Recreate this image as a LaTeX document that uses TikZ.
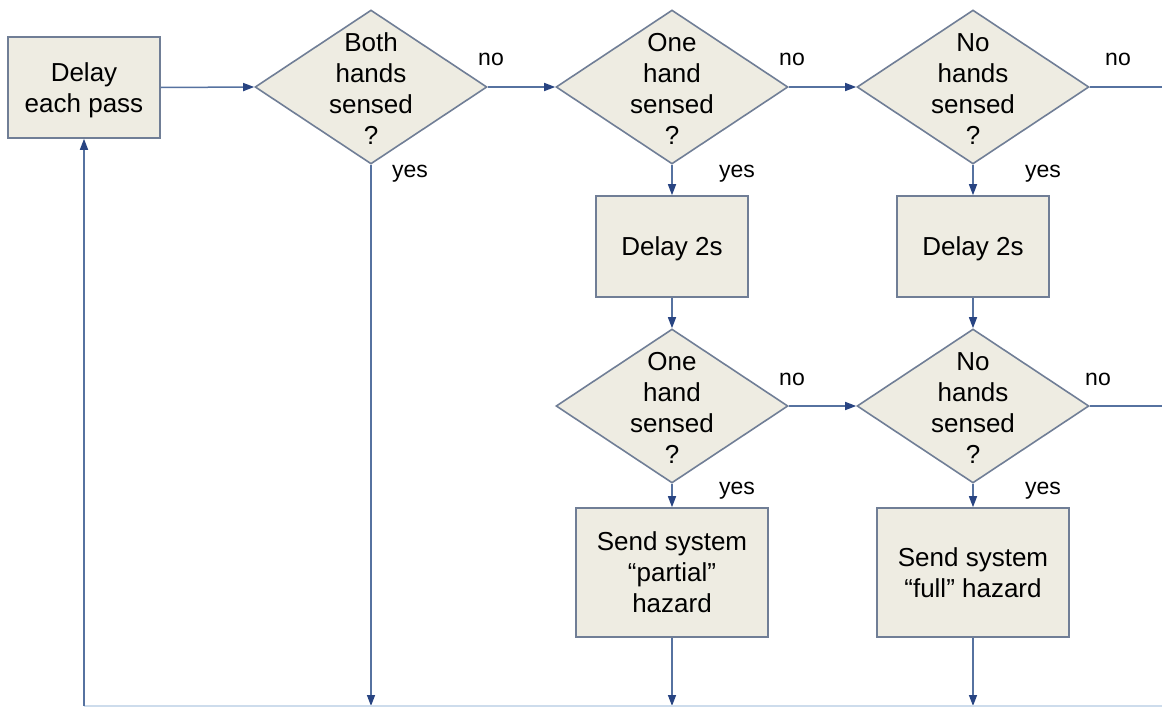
\documentclass[tikz,border=0pt]{standalone}
\usepackage{fontspec}
\setmainfont{Liberation Sans}
\usetikzlibrary{shapes.geometric,arrows.meta}
\definecolor{boxfill}{RGB}{238,236,226}
\definecolor{boxline}{RGB}{112,126,150}
\definecolor{wire}{RGB}{86,114,160}
\definecolor{tipcol}{RGB}{40,68,130}
\definecolor{faintwire}{RGB}{205,220,236}
\tikzset{
  stepbox/.style={draw=boxline, fill=boxfill, line width=1.6pt, rectangle,
    inner sep=0pt, align=center, font=\fontsize{26}{31}\selectfont},
  decision/.style={draw=boxline, fill=boxfill, line width=1.6pt, diamond,
    minimum width=232pt, minimum height=154pt, inner sep=0pt},
  dtext/.style={align=center, inner sep=0pt, font=\fontsize{26}{31}\selectfont},
  flow/.style={draw=wire, line width=1.5pt,
    -{Triangle[length=11pt,width=8pt,fill=tipcol,color=tipcol]}},
  plain/.style={draw=wire, line width=1.5pt},
  answer/.style={anchor=base, inner sep=0pt, font=\fontsize{23}{27}\selectfont},
}
\begin{document}
\begin{tikzpicture}[x=1pt,y=-1pt]
  \useasboundingbox (0,0) rectangle (1162,707);

  % process boxes
  \node[stepbox, minimum width=152pt, minimum height=101pt] (pass) at (84,87.5) {\rule{0pt}{24pt}Delay\\each pass};
  \node[stepbox, minimum width=152pt, minimum height=101pt] (waitA) at (672,246.5) {\rule{0pt}{24pt}Delay 2s};
  \node[stepbox, minimum width=152pt, minimum height=101pt] (waitB) at (973,246.5) {\rule{0pt}{24pt}Delay 2s};
  \node[stepbox, minimum width=192pt, minimum height=129pt] (partial) at (672,572.5) {Send system\\``partial''\\hazard};
  \node[stepbox, minimum width=192pt, minimum height=129pt] (full) at (973,572.5) {Send system\\``full'' hazard};

  % decisions
  \node[decision] (both) at (371,87) {};
  \node[decision] (oneA) at (672,87) {};
  \node[decision] (noneA) at (973,87) {};
  \node[decision] (oneB) at (672,406) {};
  \node[decision] (noneB) at (973,406) {};
  \node[dtext] (bothT) at (371,89) {Both\\hands\\sensed\\?};
  \node[dtext] (oneAT) at (672,89) {One\\hand\\sensed\\?};
  \node[dtext] (noneAT) at (973,89) {No\\hands\\sensed\\?};
  \node[dtext] (oneBT) at (672,408) {One\\hand\\sensed\\?};
  \node[dtext] (noneBT) at (973,408) {No\\hands\\sensed\\?};

  % free ends at the right and bottom edges
  \coordinate (exitA) at (1162,87);
  \coordinate (exitB) at (1162,406);
  \coordinate (bl) at (84,706);
  \coordinate (bBoth) at (371,706);
  \coordinate (bPartial) at (672,706);
  \coordinate (bFull) at (973,706);
  \coordinate (br) at (1162,706);

  % connectors
  \draw[flow] (pass.east) -- (both.west);
  \draw[flow] (both.east) -- (oneA.west);
  \draw[flow] (oneA.east) -- (noneA.west);
  \draw[plain] (noneA.east) -- (exitA);
  \draw[flow] (oneA.south) -- (waitA.north);
  \draw[flow] (noneA.south) -- (waitB.north);
  \draw[flow] (waitA.south) -- (oneB.north);
  \draw[flow] (waitB.south) -- (noneB.north);
  \draw[flow] (oneB.east) -- (noneB.west);
  \draw[plain] (noneB.east) -- (exitB);
  \draw[flow] (oneB.south) -- (partial.north);
  \draw[flow] (noneB.south) -- (full.north);
  \draw[flow] (both.south) -- (bBoth);
  \draw[flow] (partial.south) -- (bPartial);
  \draw[flow] (full.south) -- (bFull);
  \draw[draw=faintwire, line width=1.4pt] (bl) -- (br);
  \draw[flow] (bl) -- (pass.south);

  % branch labels
  \node[answer] (n1) at (491,65) {no};
  \node[answer] (y1) at (410,177) {yes};
  \node[answer] (n2) at (792,65) {no};
  \node[answer] (y2) at (737,177) {yes};
  \node[answer] (n3) at (1118,65) {no};
  \node[answer] (y3) at (1043,177) {yes};
  \node[answer] (n4) at (792,385) {no};
  \node[answer] (y4) at (737,494) {yes};
  \node[answer] (n5) at (1098,385) {no};
  \node[answer] (y5) at (1043,494) {yes};
\end{tikzpicture}
\end{document}
